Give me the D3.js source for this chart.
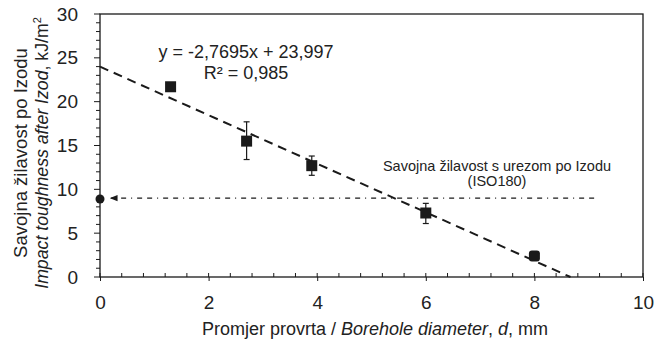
<!DOCTYPE html>
<html>
<head>
<meta charset="utf-8">
<script src="https://cdn.jsdelivr.net/npm/d3@7"></script>
<style>
  body { margin: 0; background: #fff; }
  text { font-family: "Liberation Sans", Arial, sans-serif; fill: #222; }
</style>
</head>
<body>
<script>
// data
var diam = [1.3, 2.7, 3.9, 6.0, 8.0];
var tough = [21.7, 15.5, 12.7, 7.3, 2.4];
var errLo = [0, 2.1, 1.1, 1.2, 0.4];
var errHi = [0, 2.2, 1.1, 1.1, 0.4];
var isoValue = 8.9;
var isoRange = [0.18, 9.1];
var slope = -2.7695, intercept = 23.997;
var xTicks = [0, 2, 4, 6, 8, 10];
var yTicks = [0, 5, 10, 15, 20, 25, 30];

var margin = {top: 14, right: 21, bottom: 66, left: 100},
    width = 664 - margin.left - margin.right,
    height = 343 - margin.top - margin.bottom;

var x = d3.scaleLinear().domain([0, 10]).range([0, width]);
var y = d3.scaleLinear().domain([0, 30]).range([height, 0]);

var root = d3.select("body").append("svg")
    .attr("width", 664)
    .attr("height", 343);
var svg = root.append("g")
    .attr("transform", "translate(" + margin.left + "," + margin.top + ")");

var ink = "#1a1a1a";

function label(parent, tx, ty, size, rot) {
  var g = parent.append("g")
      .attr("transform", "translate(" + tx + "," + ty + ")" + (rot ? " rotate(" + rot + ")" : ""));
  return g.append("text").attr("text-anchor", "middle").attr("font-size", size);
}

// frame
svg.append("rect")
    .attr("width", width).attr("height", height)
    .attr("fill", "none").attr("stroke", ink).attr("stroke-width", 1.3);

// minor ticks
svg.selectAll(".xminor").data(d3.range(0, 10.01, 0.4)).enter().append("line")
    .attr("x1", d => x(d)).attr("x2", d => x(d))
    .attr("y1", height).attr("y2", height - 4)
    .attr("stroke", ink);
svg.selectAll(".yminor").data(d3.range(0, 30.01, 1)).enter().append("line")
    .attr("x1", 0).attr("x2", d => d % 5 === 0 ? -6 : -4)
    .attr("y1", d => y(d)).attr("y2", d => y(d))
    .attr("stroke", ink);

// axes
var xAxis = svg.append("g")
    .attr("transform", "translate(0," + height + ")")
    .call(d3.axisBottom(x).tickValues(xTicks).tickSize(4).tickPadding(15));
var yAxis = svg.append("g")
    .call(d3.axisLeft(y).tickValues(yTicks).tickSize(0).tickPadding(22));
[xAxis, yAxis].forEach(function(a) {
  a.select(".domain").remove();
  a.selectAll("line").attr("stroke", ink);
  a.selectAll("text").attr("font-size", 19).attr("font-family", "Liberation Sans, Arial, sans-serif").attr("fill", "#222");
});

// trend line
var xEnd = -intercept / slope;
svg.append("line")
    .attr("x1", x(0)).attr("y1", y(intercept))
    .attr("x2", x(xEnd)).attr("y2", y(0))
    .attr("stroke", ink).attr("stroke-width", 2)
    .attr("stroke-dasharray", "9,6");

// ISO reference line with arrow
root.append("defs").append("marker")
    .attr("id", "arr").attr("viewBox", "0 0 10 10")
    .attr("refX", 10).attr("refY", 5)
    .attr("markerWidth", 6).attr("markerHeight", 6)
    .attr("orient", "auto")
  .append("path").attr("d", "M0,1 L10,5 L0,9 Z").attr("fill", ink);
svg.append("line")
    .attr("x1", x(isoRange[1])).attr("y1", y(9))
    .attr("x2", x(isoRange[0])).attr("y2", y(9))
    .attr("stroke", ink).attr("stroke-width", 1.3)
    .attr("stroke-dasharray", "5,5,5,5,1,5")
    .attr("marker-end", "url(#arr)");
svg.append("circle")
    .attr("cx", x(0)).attr("cy", y(isoValue)).attr("r", 4.5).attr("fill", ink);

// error bars
var pts = diam.map(function(d, i) { return {x: d, y: tough[i], lo: errLo[i], hi: errHi[i]}; });
var eb = svg.selectAll(".eb").data(pts.filter(d => d.lo > 0)).enter().append("g");
eb.append("line")
    .attr("x1", d => x(d.x)).attr("x2", d => x(d.x))
    .attr("y1", d => y(d.y - d.lo)).attr("y2", d => y(d.y + d.hi))
    .attr("stroke", ink).attr("stroke-width", 1.2);
eb.append("line")
    .attr("x1", d => x(d.x) - 3).attr("x2", d => x(d.x) + 3)
    .attr("y1", d => y(d.y - d.lo)).attr("y2", d => y(d.y - d.lo))
    .attr("stroke", ink).attr("stroke-width", 1.2);
eb.append("line")
    .attr("x1", d => x(d.x) - 3).attr("x2", d => x(d.x) + 3)
    .attr("y1", d => y(d.y + d.hi)).attr("y2", d => y(d.y + d.hi))
    .attr("stroke", ink).attr("stroke-width", 1.2);

// points
svg.selectAll(".point").data(pts).enter().append("rect")
    .attr("x", d => x(d.x) - 5.5).attr("y", d => y(d.y) - 5.5)
    .attr("width", 11).attr("height", 11)
    .attr("rx", (d, i) => i === 4 ? 3 : 0)
    .attr("fill", ink);

// annotations
label(root, 246, 58, 18).text("y = -2,7695x + 23,997");
label(root, 246, 79, 18).text("R² = 0,985");
label(root, 497, 171, 14.5).text("Savojna žilavost s urezom po Izodu");
label(root, 497, 186, 14.5).text("(ISO180)");

// axis titles
var xt = label(root, 375, 335, 18);
xt.append("tspan").text("Promjer provrta / ");
xt.append("tspan").attr("font-style", "italic").text("Borehole diameter");
xt.append("tspan").text(", ");
xt.append("tspan").attr("font-style", "italic").text("d");
xt.append("tspan").text(", mm");

label(root, 27, 153, 18.5, -90).text("Savojna žilavost po Izodu");
var yt = label(root, 48, 153, 17.7, -90);
yt.append("tspan").attr("font-style", "italic").text("Impact toughness after Izod");
yt.append("tspan").text(", kJ/m");
yt.append("tspan").attr("font-size", 11).attr("dy", -7).text("2");
</script>
</body>
</html>
